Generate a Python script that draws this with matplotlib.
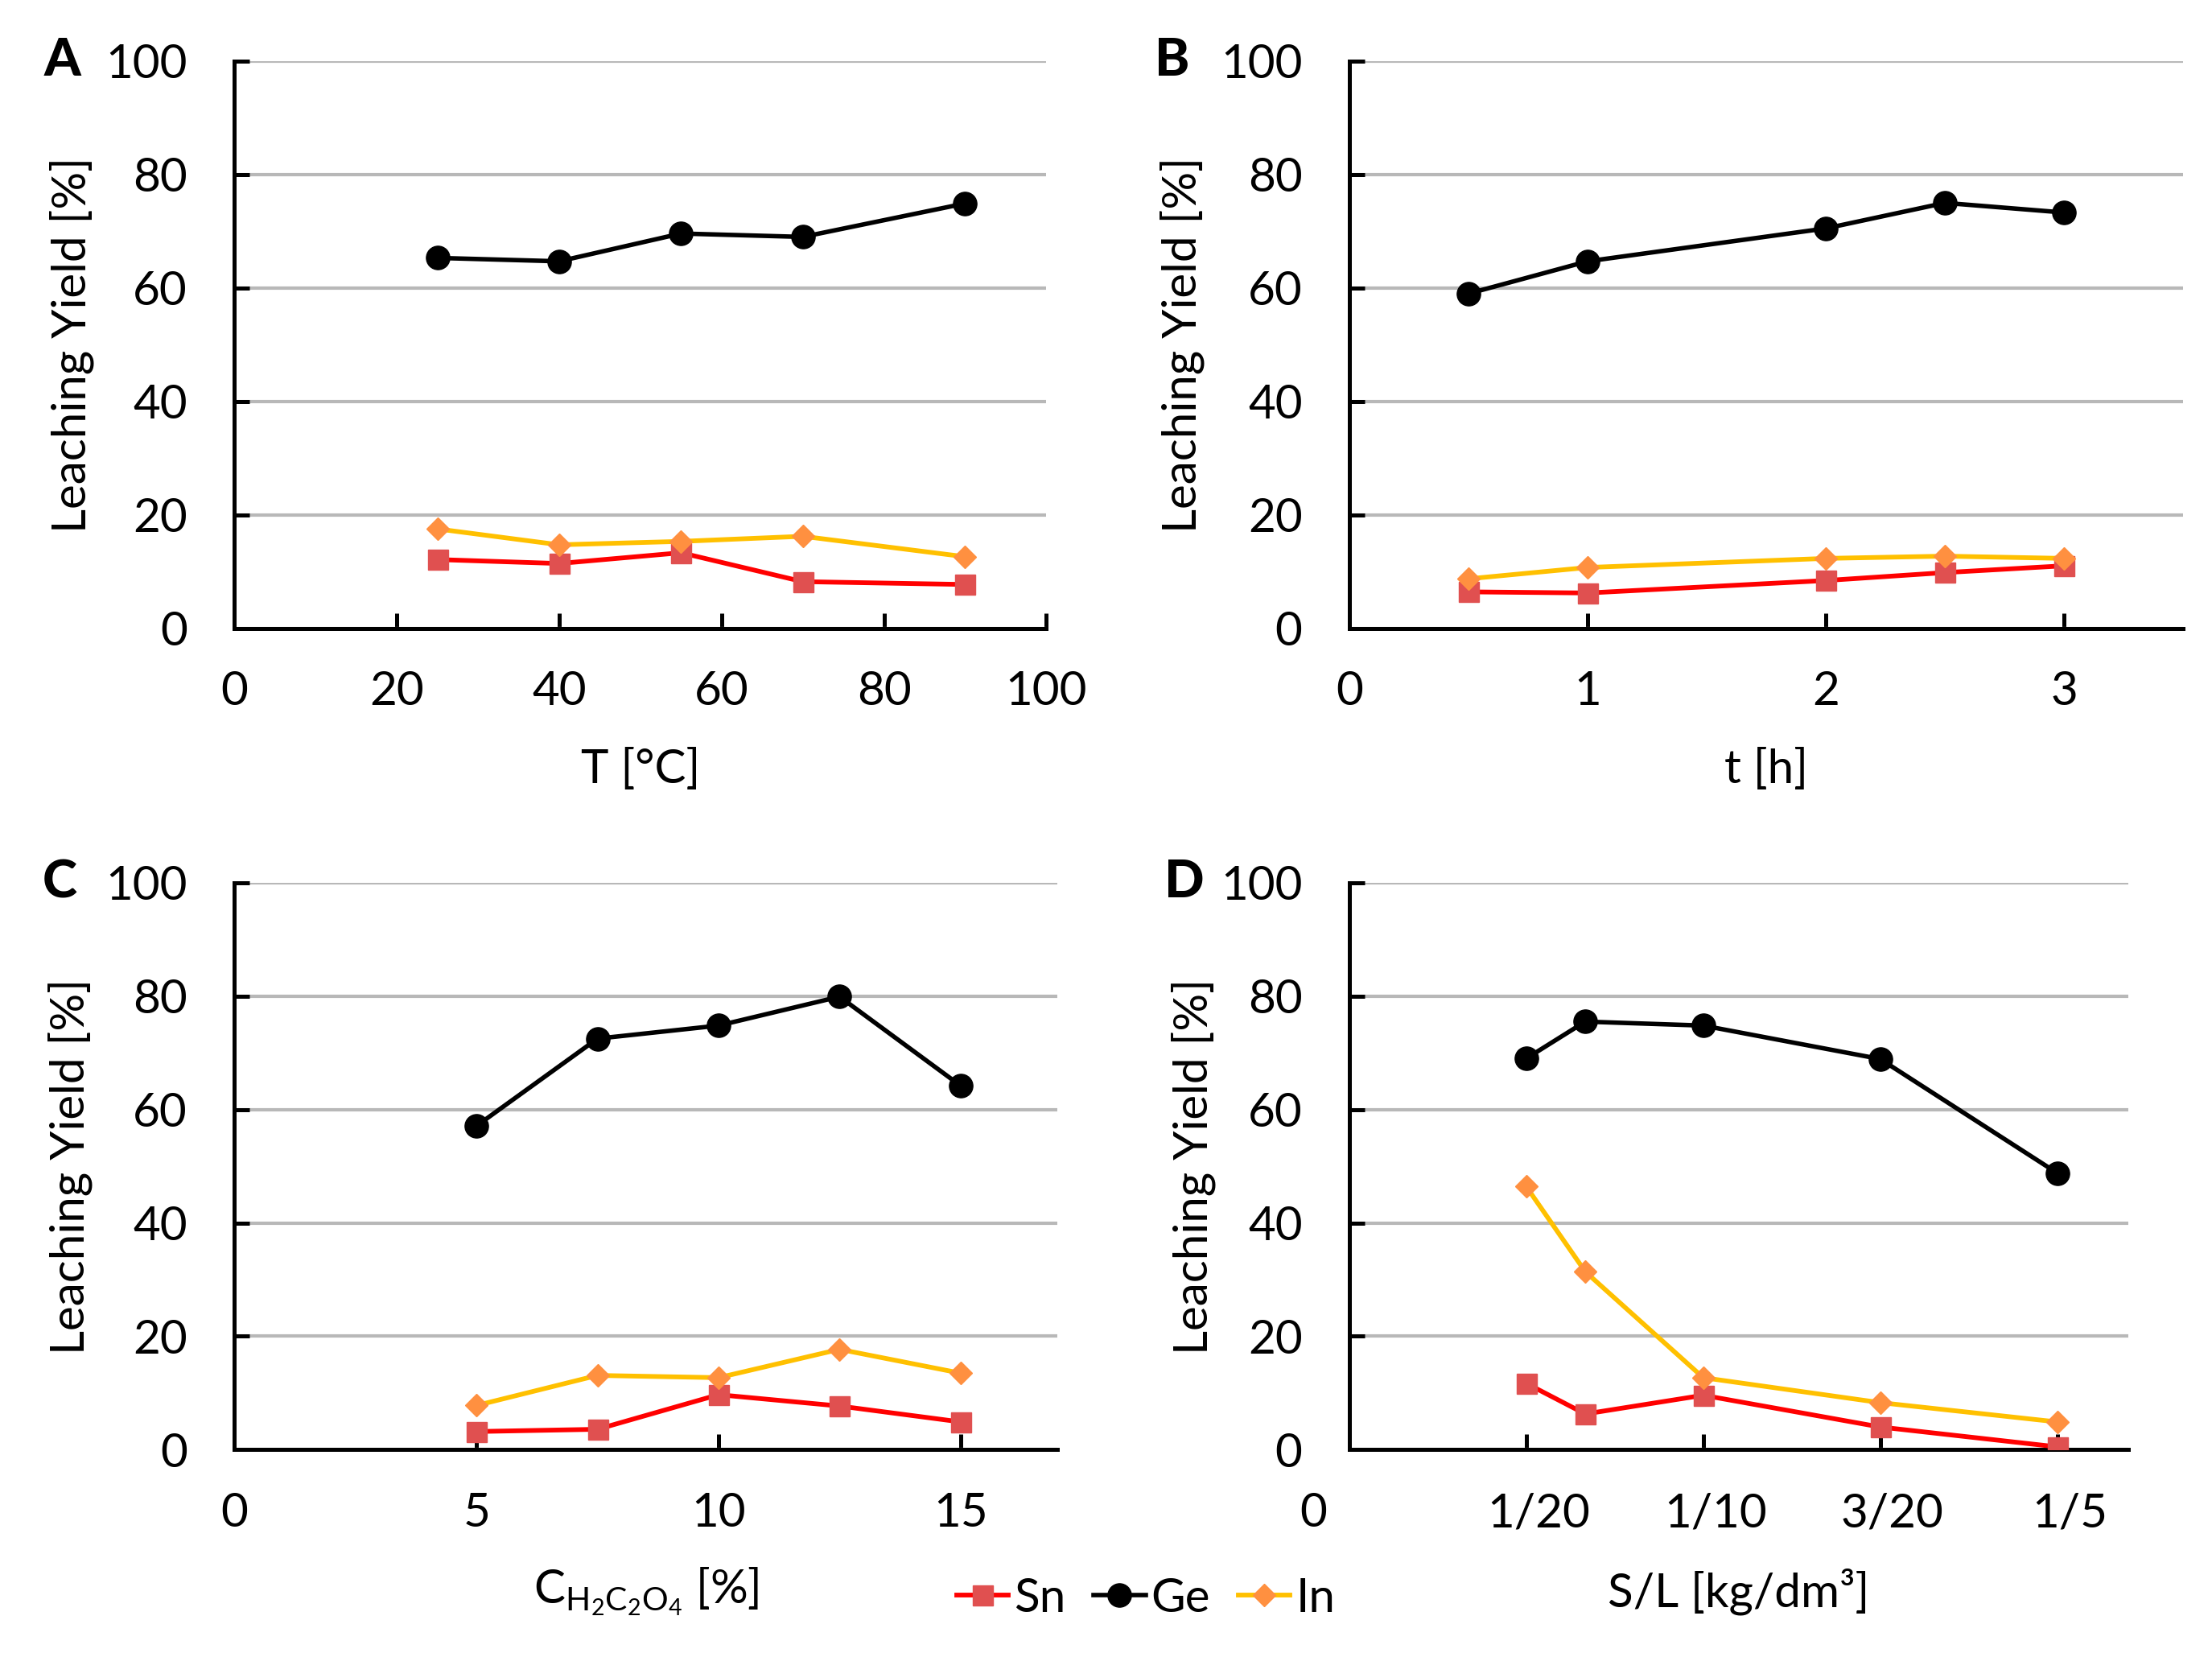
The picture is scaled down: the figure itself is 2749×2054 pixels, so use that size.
import matplotlib
matplotlib.use('Agg')
import matplotlib.pyplot as plt
from matplotlib.transforms import ScaledTranslation

# leaching data
temp = [25, 40, 55, 70, 90]
temp_sn = [12.1, 11.4, 13.3, 8.2, 7.7]
temp_ge = [65.3, 64.7, 69.6, 69.0, 74.9]
temp_in = [17.5, 14.7, 15.3, 16.2, 12.6]

time_h = [0.5, 1, 2, 2.5, 3]
time_sn = [6.4, 6.2, 8.4, 9.8, 11.0]
time_ge = [59.0, 64.7, 70.5, 75.0, 73.3]
time_in = [8.7, 10.7, 12.3, 12.7, 12.3]

conc = [5, 7.5, 10, 12.5, 15]
conc_sn = [3.2, 3.6, 9.7, 7.7, 4.9]
conc_ge = [57.1, 72.5, 74.8, 79.9, 64.2]
conc_in = [7.8, 13.1, 12.7, 17.7, 13.5]

sl = [1/20, 1/15, 1/10, 3/20, 1/5]
sl_sn = [11.7, 6.3, 9.6, 4.0, 0.5]
sl_ge = [69.0, 75.5, 74.8, 68.9, 48.8]
sl_in = [46.4, 31.4, 12.7, 8.3, 4.9]

sl_ticks = [0, 1/20, 1/10, 3/20, 1/5]
sl_ticklabels = ['0', '1/20', '1/10', '3/20', '1/5']

plt.rcParams['font.family'] = ['Lato', 'DejaVu Sans']
plt.rcParams['mathtext.fontset'] = 'custom'
plt.rcParams['mathtext.rm'] = 'Lato'
plt.rcParams['mathtext.it'] = 'Lato:italic'

FS = 42

fig = plt.figure(figsize=(27.49, 20.54), dpi=100)

# axes boxes in figure fractions [left, bottom, width, height]
axA = fig.add_axes([0.106, 0.620, 0.367, 0.343])
axB = fig.add_axes([0.610, 0.620, 0.377, 0.343])
axC = fig.add_axes([0.106, 0.123, 0.372, 0.343])
axD = fig.add_axes([0.610, 0.123, 0.352, 0.343])


def draw(ax, x, sn, ge, inn):
    ax.plot(x, sn, color='#ff0000', lw=4.2, marker='s', ms=18,
            mfc='#e05050', mec='#e05050', label='Sn', zorder=3)
    ax.plot(x, ge, color='black', lw=4.0, marker='o', ms=21,
            label='Ge', zorder=4)
    ax.plot(x, inn, color='#ffc000', lw=4.2, marker='D', ms=14,
            mfc='#ff9040', mec='#ff9040', label='In', zorder=3)


def style(ax, letter, xlabel):
    ax.set_ylim(0, 100)
    ax.set_yticks(range(0, 101, 20))
    ax.yaxis.grid(True, color='#b8b8b8', lw=3.0)
    ax.set_axisbelow(True)
    for s in ['top', 'right']:
        ax.spines[s].set_visible(False)
    for s in ['left', 'bottom']:
        ax.spines[s].set_linewidth(3.6)
    ax.tick_params(axis='both', direction='in', length=14, width=3.6,
                   labelsize=FS)
    ax.tick_params(axis='y', pad=42)
    ax.tick_params(axis='x', pad=38)
    ax.set_ylabel('Leaching Yield [%]', fontsize=FS)
    ax.yaxis.label.set_va('center')
    ax.yaxis.set_label_coords(-0.2, 0.5)
    ax.set_xlabel(xlabel, fontsize=FS)
    ax.xaxis.label.set_va('center')
    ax.xaxis.set_label_coords(0.5, -0.25)
    ax.text(-0.212, 1.0, letter, transform=ax.transAxes, fontsize=47,
            fontweight='black', ha='center', va='center')


draw(axA, temp, temp_sn, temp_ge, temp_in)
axA.set_xlim(0, 100)
axA.set_xticks(range(0, 101, 20))
style(axA, 'A', 'T [°C]')

draw(axB, time_h, time_sn, time_ge, time_in)
axB.set_xlim(0, 3.5)
axB.set_xticks([0, 1, 2, 3])
style(axB, 'B', 't [h]')

draw(axC, conc, conc_sn, conc_ge, conc_in)
axC.set_xlim(0, 17)
axC.set_xticks([0, 5, 10, 15])
style(axC, 'C', r'C$_{\mathrm{H_2C_2O_4}}$ [%]')

draw(axD, sl, sl_sn, sl_ge, sl_in)
axD.set_xlim(0, 0.22)
axD.set_xticks(sl_ticks)
axD.set_xticklabels(sl_ticklabels)
style(axD, 'D', 'S/L [kg/dm³]')
# the Excel original nudges these labels a little off their ticks
for lab, dx in zip(axD.get_xticklabels(), [-32, 11, 11, 11, 11]):
    lab.set_transform(lab.get_transform() +
                      ScaledTranslation(dx / 72, 0, fig.dpi_scale_trans))

handles, labels = axA.get_legend_handles_labels()
fig.legend(handles, labels, loc='center', bbox_to_anchor=(0.518, 0.033),
           ncol=3, frameon=False, fontsize=FS, handlelength=1.1,
           handletextpad=0.12, columnspacing=0.6, borderpad=0)

fig.savefig('out.png', dpi=100)
